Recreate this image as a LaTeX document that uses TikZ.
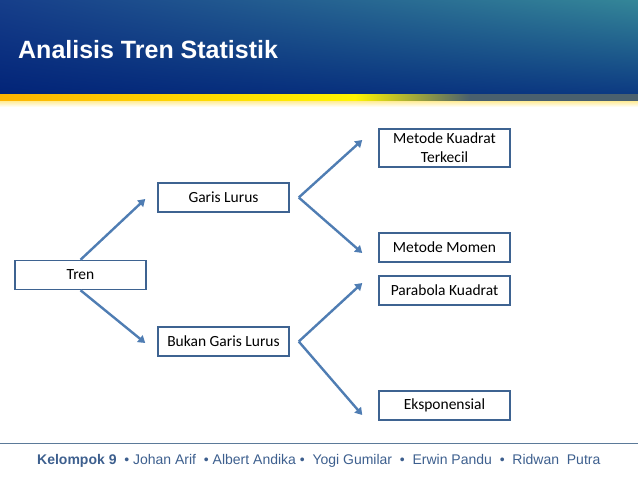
\documentclass[tikz,border=0pt]{standalone}
\usepackage{fontspec}
\setmainfont{Liberation Sans}
\newfontfamily\boxfont{Carlito}
\usepackage{tikz}
\usetikzlibrary{arrows.meta,positioning,shadings}

\definecolor{boxline}{HTML}{3E6391}
\definecolor{arrowblue}{HTML}{4F7DB3}
\definecolor{footblue}{HTML}{3D5F8E}
\definecolor{footline}{HTML}{5B7A99}
\definecolor{headUL}{RGB}{22,62,138}
\definecolor{headUR}{RGB}{52,134,152}
\definecolor{headLL}{RGB}{2,36,120}
\definecolor{headLR}{RGB}{12,58,130}
\definecolor{stripeA}{RGB}{253,180,0}
\definecolor{stripeB}{RGB}{255,245,0}
\definecolor{stripeC}{RGB}{74,96,110}
\definecolor{stripeD}{RGB}{255,236,150}

\begin{document}
\begin{tikzpicture}[
  x=1pt, y=-1pt,
  box/.style={rectangle, draw=boxline, line width=1.5pt, fill=white, minimum width=131pt,
    minimum height=29pt, inner sep=2pt, align=center, font=\boxfont\fontsize{15.5}{19}\selectfont},
  arrow/.style={-{Triangle[length=7pt,width=8.5pt]}, line width=2.4pt, draw=arrowblue}
]
\useasboundingbox (0,0) rectangle (638,479);

% Header
\shade[upper left=headUL, upper right=headUR, lower left=headLL, lower right=headLR]
  (0,0) rectangle (638,94);
\shade[left color=stripeA, right color=stripeB] (0,94) rectangle (355,101);
\shade[left color=stripeB, right color=stripeC] (355,94) rectangle (470,101);
\fill[stripeC] (470,94) rectangle (638,101);
\shade[top color=stripeD, bottom color=white] (0,101) rectangle (638,107);
\node[anchor=base west, inner sep=0pt, text=white, font=\bfseries\fontsize{25}{29}\selectfont]
  (title) at (18,58) {Analisis Tren Statistik};

% Boxes
\node[box] (tren) at (80.5,275) {Tren};
\node[box] (garis) at (223.5,197.5) {Garis Lurus};
\node[box] (bukan) at (223.5,341.5) {Bukan Garis Lurus};
\node[box, minimum height=38pt] (kuadrat) at (444.5,148) {Metode Kuadrat\\Terkecil};
\node[box] (momen) at (444.5,247.5) {Metode Momen};
\node[box] (parabola) at (444.5,290.5) {Parabola Kuadrat};
\node[box] (ekspo) at (444.5,405.5) {Eksponensial};

% Arrows
\draw[arrow] (tren.north) -- ([xshift=-12pt, yshift=-1.5pt]garis.west);
\draw[arrow] (tren.south) -- ([xshift=-12pt, yshift=-1.5pt]bukan.west);
\draw[arrow] ([xshift=9pt]garis.east) -- ([xshift=-16pt, yshift=8pt]kuadrat.west);
\draw[arrow] ([xshift=9pt]garis.east) -- ([xshift=-16pt, yshift=-5.5pt]momen.west);
\draw[arrow] ([xshift=9pt]bukan.east) -- ([xshift=-16pt, yshift=7.5pt]parabola.west);
\draw[arrow] ([xshift=9pt]bukan.east) -- ([xshift=-16pt, yshift=-9.5pt]ekspo.west);

% Footer
\draw[footline, line width=1pt] (0,443) -- (638,443);
\node[anchor=base west, inner sep=0pt, text=footblue, font=\fontsize{14}{16}\selectfont] (foot) at (37,464)
  {\textbf{Kelompok 9}\ \ • Johan Arif\ \ • Albert Andika •\ \ Yogi Gumilar\ \ •\ \ Erwin Pandu\ \ •\ \ Ridwan\ \ Putra};
\end{tikzpicture}
\end{document}
